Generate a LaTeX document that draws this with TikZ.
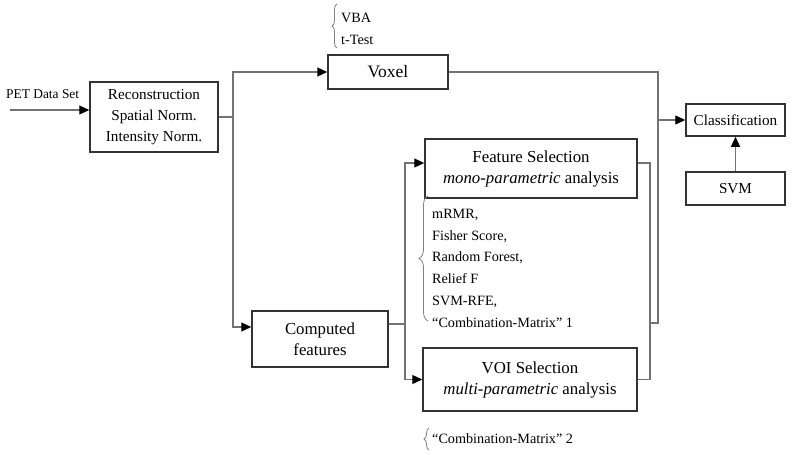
\documentclass[tikz,border=0pt]{standalone}
\usepackage{fontspec}
\setmainfont{Liberation Serif}
\usetikzlibrary{arrows.meta,calc,decorations.pathreplacing}
\begin{document}
\begin{tikzpicture}[x=1pt,y=-1pt,
  box/.style={draw=black!80,line width=1.5pt,inner sep=0pt,align=center,fill=white},
  conn/.style={draw=black!55,line width=1.1pt},
  arr/.style={conn,-{Triangle[length=10pt,width=9pt,color=black]}},
  brc/.style={draw=black!50,line width=0.8pt,decorate},
  big/.style={font=\fontsize{16.8}{21}\selectfont},
  mid/.style={font=\fontsize{15.2}{21}\selectfont},
  small/.style={font=\fontsize{14.2}{21.7}\selectfont}]
\useasboundingbox (0,0) rectangle (798,455);

% boxes
\node[box,mid,minimum width=128pt,minimum height=70pt] (rec) at (154,117)
  {Reconstruction\\Spatial Norm.\\Intensity Norm.};
\node[box,font=\fontsize{17.5}{21}\selectfont,minimum width=120pt,minimum height=34pt] (voxel) at (388,72) {Voxel};
\node[box,big,minimum width=212pt,minimum height=59pt] (fs) at (531,168.5)
  {Feature Selection\\\textit{mono-parametric} analysis};
\node[box,big,minimum width=214pt,minimum height=63pt] (voi) at (530,379.5)
  {VOI Selection\\\textit{multi-parametric} analysis};
\node[box,big,minimum width=136pt,minimum height=56pt] (cf) at (320,339)
  {Computed\\features};
\node[box,mid,minimum width=99pt,minimum height=32pt] (cls) at (735.5,120) {Classification};
\node[box,mid,minimum width=99pt,minimum height=33pt] (svm) at (735.5,188.5) {SVM};

% input
\coordinate (pet) at (10,110);
\node[font=\fontsize{13.4}{16}\selectfont,anchor=base west,inner sep=0pt] (petlbl) at (6,98) {PET Data Set};
\draw[arr] (pet) -- (pet -| rec.west);

% left trunk
\coordinate (j1) at (233,117);
\draw[conn] (rec.east) -- (j1);
\draw[arr] (j1) |- (voxel.west);
\draw[arr] (j1) |- ([yshift=12pt]cf.west);

% computed features trunk
\coordinate (j2) at (405,324);
\draw[conn] ([yshift=15pt]cf.east) -- (j2);
\draw[arr] (j2) |- ([yshift=5.5pt]fs.west);
\draw[arr] (j2) |- (voi.west);

% right collectors
\coordinate (j3) at (650,163);
\coordinate (j4) at (658,323);
\draw[conn] ([yshift=5.5pt]fs.east) -- (j3) |- (voi.east);
\draw[conn] (voxel.east) -| (j4) -- (j4 -| j3);
\draw[arr] (j4 |- cls.west) -- (cls.west);
\draw[arr] (svm.north) -- (cls.south);

% annotations
\draw[brc,decoration={brace,amplitude=5pt}] (337,48) -- (337,4);
\node[small,anchor=base west,inner sep=0pt] (vba) at (341,22) {VBA};
\node[small,anchor=base west,inner sep=0pt] (ttest) at (341,44) {t-Test};

\draw[brc,decoration={brace,amplitude=9pt}] (428,321) -- (428,196);
\node[small,align=left,anchor=north west,inner sep=0pt] (list) at (432,209)
  {mRMR,\\Fisher Score,\\Random Forest,\\Relief F\\SVM-RFE,\\“Combination-Matrix” 1};

\draw[brc,decoration={brace,amplitude=5pt}] (429,450) -- (429,428);
\node[small,anchor=base west,inner sep=0pt] (cm2) at (432,443) {“Combination-Matrix” 2};
\end{tikzpicture}
\end{document}
